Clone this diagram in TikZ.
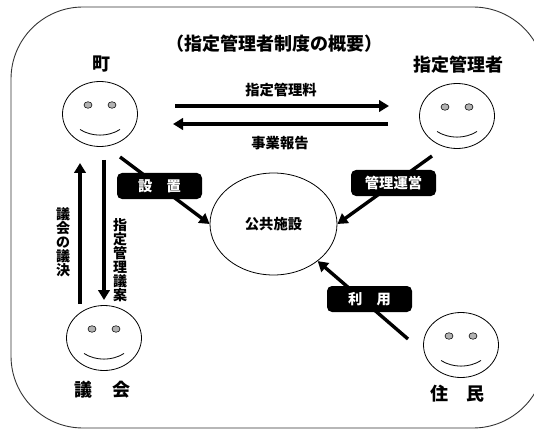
\documentclass[tikz,border=0pt]{standalone}
\usepackage{fontspec}
\setmainfont{Noto Sans CJK JP}
\usetikzlibrary{arrows.meta,shapes.geometric}
\newcommand{\tightlines}{\setlength{\lineskiplimit}{-100pt}}
\tikzset{
  face/.style={draw=black,line width=0.8pt,ellipse,minimum width=75pt,minimum height=65pt,inner sep=0pt},
  eye/.style={draw=black,fill=black!30,line width=0.6pt,ellipse,minimum width=8pt,minimum height=6.5pt,inner sep=0pt},
  smile/.style={draw=black,line width=0.8pt},
  conn/.style={line width=3.4pt,-{Triangle[length=10pt,width=11.5pt]}},
  tag/.style={fill=black,text=white,rounded corners=5pt,minimum width=85pt,minimum height=26pt,inner sep=0pt,font=\fontsize{14.3}{15}\selectfont\bfseries},
  lab/.style={inner sep=0pt,font=\fontsize{14.3}{15}\selectfont\bfseries},
  big/.style={inner sep=0pt,font=\fontsize{18}{19}\selectfont\bfseries},
  vert/.style={inner sep=0pt,align=center,font=\fontsize{14}{14}\selectfont\bfseries}
}
\newcommand{\smileat}[1]{%
  \draw[smile] ([shift={(-20pt,-15.5pt)}]#1.center) .. controls ([shift={(-8pt,-23pt)}]#1.center) and ([shift={(8pt,-23pt)}]#1.center) .. ([shift={(20pt,-15.5pt)}]#1.center);}
\begin{document}
\begin{tikzpicture}[x=1pt,y=-1pt]
\useasboundingbox (0,0) rectangle (534,430);
\begin{scope}
\clip (0,0) rectangle (534,430);
\draw[line width=0.9pt,black!80,rounded corners=72pt] (11,7) rectangle (545,428);
\end{scope}
\node[big] (title) at (274,44) {（指定管理者制度の概要）};
% faces
\node[face] (town) at (100,114) {};
\node[face] (mgr) at (457,116) {};
\node[face] (council) at (104,338) {};
\node[face] (res) at (461,345) {};
\foreach \f in {town,mgr,council,res}{
  \node[eye] (\f L) at ([shift={(-12pt,9pt)}]\f.center) {};
  \node[eye] (\f R) at ([shift={(12pt,9pt)}]\f.center) {};
  \smileat{\f}
}
\node[draw=black,line width=0.8pt,ellipse,minimum width=127pt,minimum height=102pt,inner sep=0pt,font=\fontsize{14.3}{15}\selectfont\bfseries] (fac) at (273.5,224) {公共施設};
% names
\node[big] (n1) at (101,64) {町};
\node[big] (n2) at (458.5,65) {指定管理者};
\node[big] (n3) at (102.5,390) {議\hspace{1.1em}会};
\node[big] (n4) at (457.5,394) {住\hspace{1.05em}民};
% labels
\node[lab] (l1) at (281,90) {指定管理料};
\node[lab] (l2) at (280,143) {事業報告};
\node[vert] (l3) at (63,242) {\tightlines 議\\会\\の\\議\\決};
\node[vert] (l4) at (120,260) {\tightlines 指\\定\\管\\理\\議\\案};
% connector ends
\coordinate (a1) at (175,106); \coordinate (a2) at (389,106);
\coordinate (b1) at (388,124); \coordinate (b2) at (173,124);
\coordinate (c1) at (80,304); \coordinate (c2) at (80,163);
\coordinate (d1) at (104,160); \coordinate (d2) at (104,300);
\coordinate (e1) at (120,157);
\coordinate (f1) at (432,156);
\coordinate (g1) at (408,339);
\draw[conn] (a1) -- (a2);
\draw[conn] (b1) -- (b2);
\draw[conn] (c1) -- (c2);
\draw[conn] (d1) -- (d2);
\draw[conn] (e1) -- (fac.180);
\draw[conn] (f1) -- (fac.0);
\draw[conn] (g1) -- (fac.-40);
% tags
\node[tag] (t1) at (159.5,186) {設\hspace{1em}置};
\node[tag] (t2) at (393.5,183) {管理運営};
\node[tag] (t3) at (369.5,299) {利\hspace{1em}用};
\end{tikzpicture}
\end{document}
